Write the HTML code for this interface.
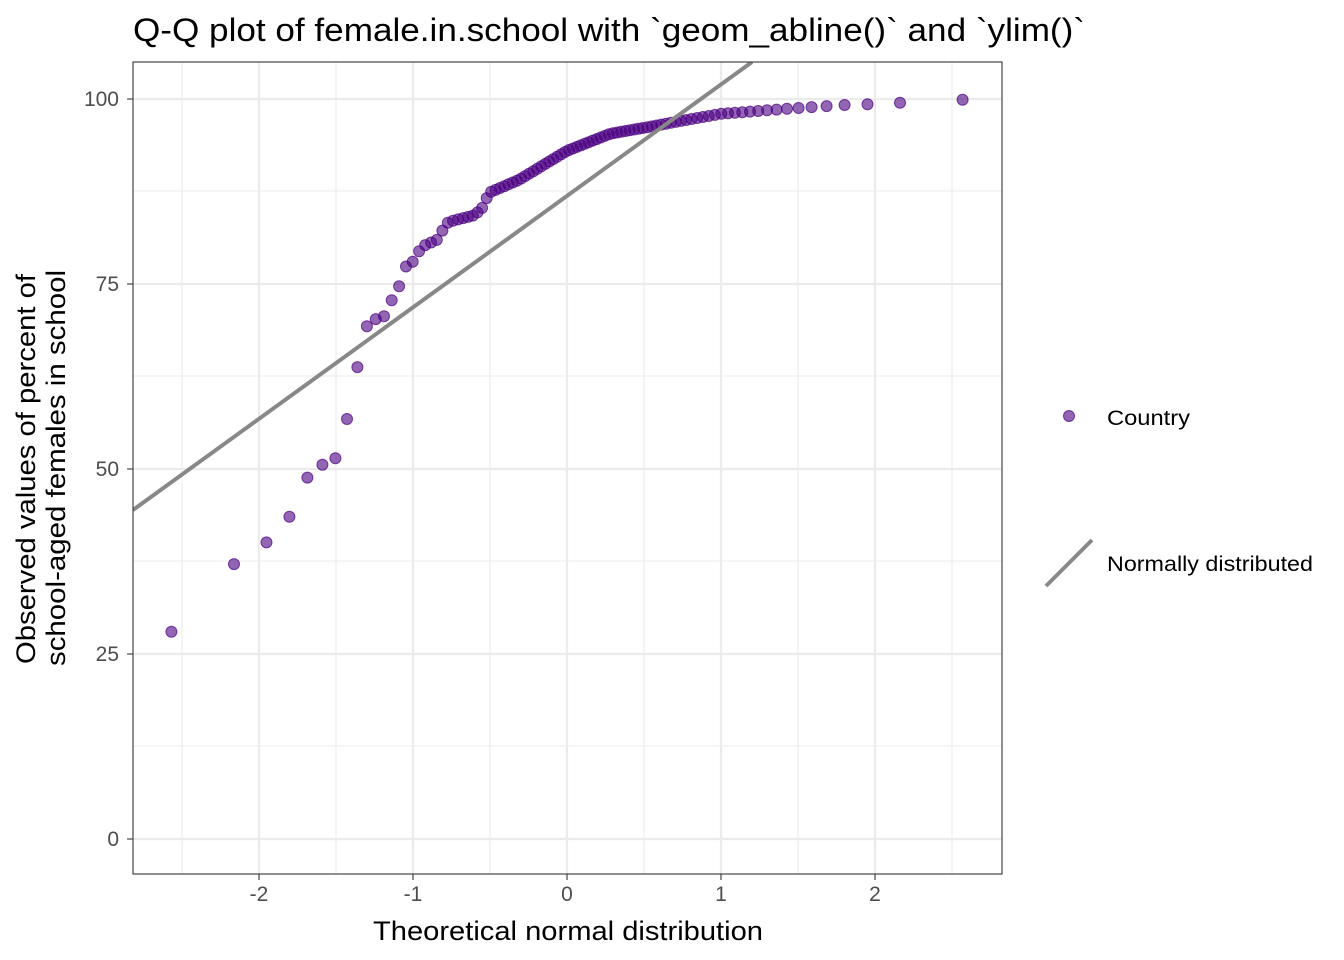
<!DOCTYPE html>
<html><head><meta charset="utf-8"><style>body{margin:0;background:#fff}svg{display:block}text{font-family:"Liberation Sans",Arial,sans-serif}</style></head>
<body>
<svg id="s" width="1344" height="960" xmlns="http://www.w3.org/2000/svg">
<rect width="1344" height="960" fill="#fff"/>
<text x="133" y="41" font-size="32" fill="#000" textLength="952" lengthAdjust="spacingAndGlyphs">Q-Q plot of female.in.school with `geom_abline()` and `ylim()`</text>
<g stroke="#ebebeb" stroke-width="1.1">
<line x1="133" x2="1002" y1="746" y2="746"/><line x1="133" x2="1002" y1="561" y2="561"/><line x1="133" x2="1002" y1="376" y2="376"/><line x1="133" x2="1002" y1="191" y2="191"/>
<line x1="182" x2="182" y1="62" y2="874"/><line x1="336" x2="336" y1="62" y2="874"/><line x1="490" x2="490" y1="62" y2="874"/><line x1="644" x2="644" y1="62" y2="874"/><line x1="798" x2="798" y1="62" y2="874"/><line x1="952" x2="952" y1="62" y2="874"/>
</g>
<g stroke="#ebebeb" stroke-width="2.2">
<line x1="133" x2="1002" y1="839" y2="839"/><line x1="133" x2="1002" y1="654" y2="654"/><line x1="133" x2="1002" y1="469" y2="469"/><line x1="133" x2="1002" y1="284" y2="284"/><line x1="133" x2="1002" y1="99" y2="99"/>
<line x1="259" x2="259" y1="62" y2="874"/><line x1="413" x2="413" y1="62" y2="874"/><line x1="567" x2="567" y1="62" y2="874"/><line x1="721" x2="721" y1="62" y2="874"/><line x1="875" x2="875" y1="62" y2="874"/>
</g>
<g id="pts"></g>
<clipPath id="c"><rect x="133" y="62" width="869" height="812"/></clipPath>
<line x1="133" y1="510" x2="752" y2="62" stroke="#888" stroke-width="4" clip-path="url(#c)"/>
<rect x="133" y="62" width="869" height="812" fill="none" stroke="#333" stroke-width="1.1"/>
<g font-size="21" fill="#4d4d4d" text-anchor="end">
<text x="119" y="846">0</text><text x="119" y="661">25</text><text x="119" y="476">50</text><text x="119" y="291">75</text><text x="119" y="106">100</text></g>
<g stroke="#333" stroke-width="1.1">
<line x1="127" x2="133" y1="839" y2="839"/><line x1="127" x2="133" y1="654" y2="654"/><line x1="127" x2="133" y1="469" y2="469"/><line x1="127" x2="133" y1="284" y2="284"/><line x1="127" x2="133" y1="99" y2="99"/>
<line x1="259" x2="259" y1="874" y2="880"/><line x1="413" x2="413" y1="874" y2="880"/><line x1="567" x2="567" y1="874" y2="880"/><line x1="721" x2="721" y1="874" y2="880"/><line x1="875" x2="875" y1="874" y2="880"/></g>
<g font-size="21" fill="#4d4d4d" text-anchor="middle">
<text x="259" y="901">-2</text><text x="413" y="901">-1</text><text x="567" y="901">0</text><text x="721" y="901">1</text><text x="875" y="901">2</text></g>
<text x="373" y="940" font-size="27" textLength="390" lengthAdjust="spacingAndGlyphs">Theoretical normal distribution</text>
<text transform="translate(35,664) rotate(-90)" font-size="27" textLength="390" lengthAdjust="spacingAndGlyphs">Observed values of percent of</text>
<text transform="translate(65,666) rotate(-90)" font-size="27" textLength="396" lengthAdjust="spacingAndGlyphs">school-aged females in school</text>
<circle cx="1069" cy="416" r="5.5" fill="#4B0082" fill-opacity="0.6" stroke="#4B0082" stroke-opacity="0.7"/>
<text x="1107" y="425" font-size="21" textLength="83" lengthAdjust="spacingAndGlyphs">Country</text>
<line x1="1046" y1="586" x2="1092" y2="540" stroke="#888" stroke-width="4"/>
<text x="1107" y="571" font-size="21" textLength="206" lengthAdjust="spacingAndGlyphs">Normally distributed</text>
</svg>
<script>
var cp=[[-2.565,28.0],[-2.16,37.2],[-1.95,40.1],[-1.80,43.6],[-1.68,49.1],[-1.58,50.7],[-1.50,51.5],[-1.42,57.4],[-1.36,63.9],[-1.29,70.1],[-1.23,70.3],[-1.18,70.7],[-1.13,73.2],[-1.08,75.1],[-1.04,77.7],[-0.99,78.1],[-0.95,79.9],[-0.90,80.5],[-0.85,80.8],[-0.81,82.2],[-0.77,83.4],[-0.60,84.3],[-0.54,85.5],[-0.51,87.3],[-0.31,89.1],[0,93.0],[0.28,95.3],[0.55,96.3],[0.73,97.0],[1.0,98.0],[1.51,98.8],[1.81,99.2],[1.95,99.3],[2.16,99.5],[2.57,99.9]];
function qn(p){var a=[-39.6968302866538,220.946098424521,-275.928510446969,138.357751867269,-30.6647980661472,2.50662827745924],b=[-54.4760987982241,161.585836858041,-155.698979859887,66.8013118877197,-13.2806815528857],c=[-0.00778489400243029,-0.322396458041136,-2.40075827716184,-2.54973253934373,4.37466414146497,2.93816398269878],d=[0.00778469570904146,0.32246712907004,2.445134137143,3.75440866190742],q,r;
if(p<0.02425){q=Math.sqrt(-2*Math.log(p));return(((((c[0]*q+c[1])*q+c[2])*q+c[3])*q+c[4])*q+c[5])/((((d[0]*q+d[1])*q+d[2])*q+d[3])*q+1);}
if(p>1-0.02425){return -qn(1-p);}
q=p-0.5;r=q*q;return(((((a[0]*r+a[1])*r+a[2])*r+a[3])*r+a[4])*r+a[5])*q/(((((b[0]*r+b[1])*r+b[2])*r+b[3])*r+b[4])*r+1);}
function f(x){if(x<=cp[0][0])return cp[0][1];for(var i=1;i<cp.length;i++){if(x<=cp[i][0]){var t=(x-cp[i-1][0])/(cp[i][0]-cp[i-1][0]);return cp[i-1][1]+t*(cp[i][1]-cp[i-1][1]);}}return cp[cp.length-1][1];}
var n=98,g=document.getElementById('pts'),h='';
for(var i=1;i<=n;i++){var x=qn((i-0.5)/n),y=f(x);h+='<circle cx="'+(567+154*x).toFixed(1)+'" cy="'+(839-7.4*y).toFixed(1)+'" r="5.5" fill="#4B0082" fill-opacity="0.6" stroke="#4B0082" stroke-opacity="0.7"/>';}
g.innerHTML=h;
</script>
</body></html>
